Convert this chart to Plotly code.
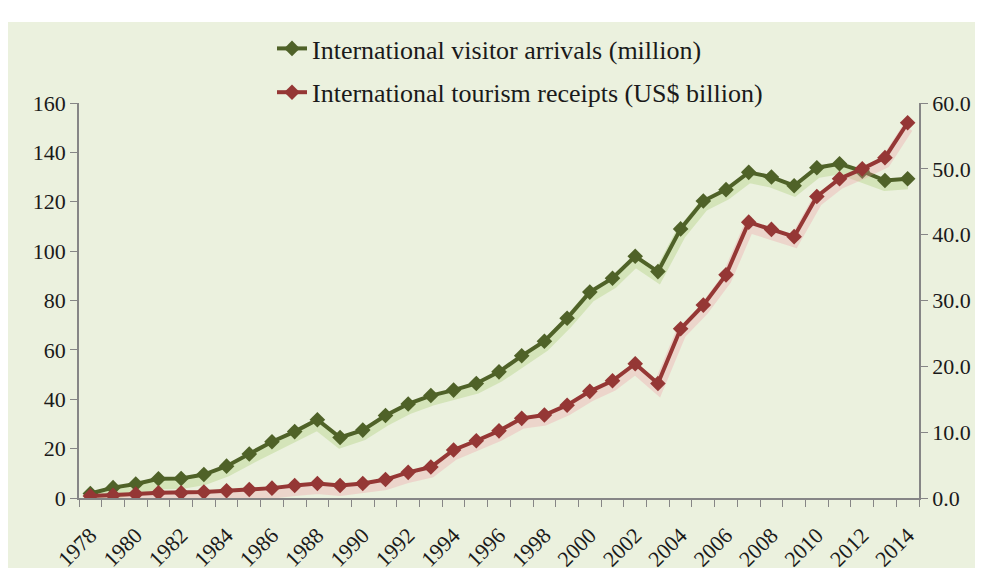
import plotly.graph_objects as go

years = list(range(1978, 2015))
arrivals = [1.8, 4.2, 5.7, 7.8, 7.9, 9.5, 12.9, 17.8, 22.8, 26.9, 31.7, 24.5, 27.5, 33.4,
            38.1, 41.5, 43.7, 46.4, 51.1, 57.6, 63.5, 72.8, 83.4, 89.0, 97.9, 91.7, 109.0,
            120.3, 124.9, 131.9, 130.0, 126.5, 133.8, 135.4, 132.4, 128.6, 129.3]
receipts = [0.3, 0.4, 0.6, 0.8, 0.8, 0.9, 1.1, 1.3, 1.5, 1.9, 2.2, 1.9, 2.2, 2.8,
            3.9, 4.7, 7.3, 8.7, 10.2, 12.1, 12.6, 14.1, 16.2, 17.8, 20.4, 17.4, 25.7,
            29.3, 33.9, 41.9, 40.8, 39.7, 45.8, 48.5, 50.0, 51.7, 57.0]
tick_years = list(range(1978, 2015, 2))
tick_labels = [str(y) for y in tick_years]
boundaries = [y - 0.5 for y in range(1978, 2016)]
left_ticks = list(range(0, 161, 20))
right_ticks = list(range(0, 61, 10))

GREEN = "#4F6228"
RED = "#953735"
BG = "#EBF1DE"
AXIS = "#868686"
FONT = "Liberation Serif, Times New Roman, serif"

# page body has an 8px margin; layout sizes compensate so the chart lands at the right spot
PAD = 8
W, H = 983 - PAD, 571 - PAD
L, T = 79 - PAD, 103 - PAD
R = W - (919 - PAD)
B = H - (498 - PAD)
plot_w = W - L - R
plot_h = H - T - B
SHADOW_PX = 5
off_left = SHADOW_PX * 160 / plot_h
off_right = SHADOW_PX * 60 / plot_h


def px_x(ax):
    return (ax - PAD - L) / plot_w


def px_y(ay):
    return (H - B - (ay - PAD)) / plot_h


fig = go.Figure()
fig.add_trace(go.Scatter(x=years, y=[v - off_left for v in arrivals], mode="lines",
                         line=dict(color="rgba(160,200,100,0.3)", width=11),
                         showlegend=False, hoverinfo="skip"))
fig.add_trace(go.Scatter(x=years, y=arrivals, mode="lines+markers",
                         name="International visitor arrivals (million)",
                         legendgroup="a",
                         line=dict(color=GREEN, width=4),
                         marker=dict(symbol="diamond", size=12, color=GREEN)))
fig.add_trace(go.Scatter(x=years, y=[v - off_right for v in receipts], mode="lines",
                         line=dict(color="rgba(240,150,160,0.3)", width=11),
                         showlegend=False, hoverinfo="skip", yaxis="y2"))
fig.add_trace(go.Scatter(x=years, y=receipts, mode="lines+markers",
                         name="International tourism receipts (US$ billion)",
                         legendgroup="b", yaxis="y2",
                         line=dict(color=RED, width=4),
                         marker=dict(symbol="diamond", size=12, color=RED)))

fig.update_layout(
    width=W, height=H,
    margin=dict(l=L, r=R, t=T, b=B, autoexpand=False),
    paper_bgcolor="white",
    plot_bgcolor=BG,
    font=dict(family=FONT, size=22, color="#1a1a1a"),
    shapes=[dict(type="rect", xref="paper", yref="paper", layer="below",
                 x0=px_x(8), x1=px_x(976), y0=px_y(568), y1=px_y(22),
                 fillcolor=BG, line=dict(width=0))],
    legend=dict(x=px_x(272), y=px_y(25),
                xanchor="left", yanchor="top", bgcolor="rgba(0,0,0,0)",
                font=dict(family=FONT, size=26, color="#1a1a1a"),
                traceorder="grouped", tracegroupgap=7),
    xaxis=dict(range=[1977.5, 2014.5], tickmode="array", tickvals=tick_years,
               ticktext=tick_labels, tickangle=-45, ticks="outside", ticklen=6,
               ticklabelstandoff=8,
               tickcolor="rgba(0,0,0,0)", showline=True, linecolor=AXIS, linewidth=1.5,
               showgrid=False, zeroline=False,
               minor=dict(tickmode="array", tickvals=boundaries, ticks="outside",
                          ticklen=7, tickcolor=AXIS, tickwidth=1.2, showgrid=False)),
    yaxis=dict(range=[0, 160], tickmode="array", tickvals=left_ticks, ticks="outside",
               ticklen=7, tickcolor=AXIS, showline=True, linecolor=AXIS, linewidth=1.5,
               showgrid=False, zeroline=False),
    yaxis2=dict(range=[0, 60], tickmode="array", tickvals=right_ticks, tickformat=".1f",
                ticks="outside", ticklen=7, tickcolor=AXIS, showline=True, linecolor=AXIS,
                linewidth=1.5, showgrid=False, zeroline=False, overlaying="y", side="right"),
)

fig.write_html("out.html")
